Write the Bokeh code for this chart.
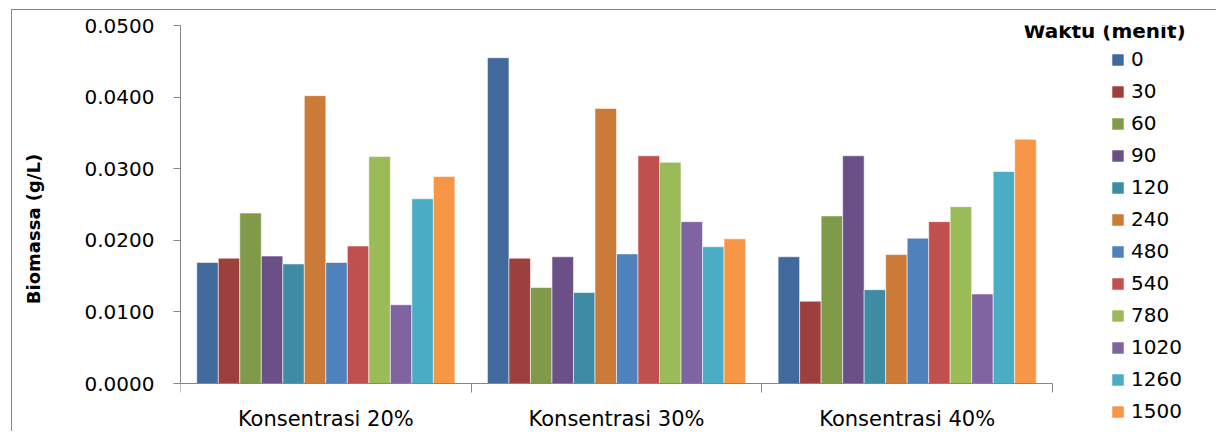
from bokeh.plotting import figure
from bokeh.models import Range1d, FixedTicker, NumeralTickFormatter, Legend, LegendItem, Label
from bokeh.embed import file_html
from bokeh.resources import INLINE

categories = ["Konsentrasi 20%", "Konsentrasi 30%", "Konsentrasi 40%"]
times = ["0", "30", "60", "90", "120", "240", "480", "540", "780", "1020", "1260", "1500"]
k20 = [0.0169, 0.0175, 0.0238, 0.0178, 0.0167, 0.0402, 0.0169, 0.0192, 0.0317, 0.0110, 0.0258, 0.0289]
k30 = [0.0455, 0.0175, 0.0134, 0.0177, 0.0127, 0.0384, 0.0181, 0.0318, 0.0309, 0.0226, 0.0191, 0.0202]
k40 = [0.0177, 0.0115, 0.0234, 0.0318, 0.0131, 0.0180, 0.0203, 0.0226, 0.0247, 0.0125, 0.0296, 0.0341]
colors = ["#41699C", "#9D3F3D", "#809A4A", "#6A5086", "#3D8BA4", "#CB7A37",
          "#4F81BD", "#C0504D", "#9BBB59", "#8064A2", "#4BACC6", "#F79646"]
yticks = [0.0, 0.01, 0.02, 0.03, 0.04, 0.05]
y_max = 0.05

FONT = "DejaVu Sans"
GRAY = "#868686"

ncat = len(categories)
# frame spans page x 180..1217 (categories occupy 180..1052) and y 25..432 (0 at 383)
x_end = ncat * (1217 - 180) / (1052 - 180)
y_start = -y_max * (432 - 383) / (383 - 25)

p = figure(width=1205, height=422,
           x_range=Range1d(0, x_end), y_range=Range1d(y_start, y_max),
           output_backend="svg", toolbar_location=None,
           min_border_left=168, min_border_right=0, min_border_top=15, min_border_bottom=0,
           margin=(9, 0, 0, 11),
           styles={"border-top": "1px solid #868686", "border-left": "1px solid #868686"})

p.outline_line_color = None
p.xgrid.grid_line_color = None
p.ygrid.grid_line_color = None
p.background_fill_color = "white"
p.border_fill_color = "white"

n = len(times)
group_w = 0.888
w = group_w / n
items = []
for j, t in enumerate(times):
    xs = [g + 0.5 + (j - (n - 1) / 2) * w for g in range(ncat)]
    tops = [k20[j], k30[j], k40[j]]
    r = p.vbar(x=xs, top=tops, width=w, fill_color=colors[j], line_color="white",
               line_alpha=0.55, line_width=1)
    items.append(LegendItem(label=t, renderers=[r]))

# y axis
ya = p.yaxis[0]
ya.bounds = (0, y_max)
ya.ticker = FixedTicker(ticks=yticks)
ya.formatter = NumeralTickFormatter(format="0.0000")
ya.axis_line_color = GRAY
ya.major_tick_line_color = GRAY
ya.major_tick_out = 7
ya.major_tick_in = 0
ya.minor_tick_line_color = None
ya.major_label_text_font = FONT
ya.major_label_text_font_size = "20px"
ya.major_label_text_color = "black"
ya.major_label_standoff = 19
ya.axis_label = "Biomassa (g/L)"
ya.axis_label_text_font = FONT
ya.axis_label_text_font_size = "18px"
ya.axis_label_text_font_style = "bold"
ya.axis_label_text_color = "black"
ya.axis_label_standoff = 38

# x axis drawn at y = 0
xa = p.xaxis[0]
xa.fixed_location = 0
xa.bounds = (0, ncat)
xa.ticker = FixedTicker(ticks=[i + 0.5 for i in range(ncat)],
                        minor_ticks=list(range(ncat + 1)))
xa.major_label_overrides = {i + 0.5: c for i, c in enumerate(categories)}
xa.axis_line_color = GRAY
xa.major_tick_line_color = None
xa.major_tick_out = 0
xa.major_tick_in = 0
xa.minor_tick_line_color = GRAY
xa.minor_tick_out = 9
xa.minor_tick_in = 0
xa.major_label_text_font = FONT
xa.major_label_text_font_size = "21px"
xa.major_label_text_color = "black"
xa.major_label_standoff = 14

# legend
lg = Legend(items=items, location=(930, 9), orientation="vertical",
            padding=0, margin=0, border_line_color=None, background_fill_alpha=0,
            glyph_width=15, glyph_height=15, label_standoff=6, spacing=8, label_height=23,
            label_text_font=FONT, label_text_font_size="20px", label_text_color="black")
p.add_layout(lg, "center")

title = Label(x=3.179, y=0.0492, text="Waktu (menit)", text_align="center",
              text_baseline="middle", text_font=FONT, text_font_size="20px",
              text_font_style="bold", text_color="black")
p.add_layout(title)

open("out.html", "w").write(file_html(p, INLINE))
